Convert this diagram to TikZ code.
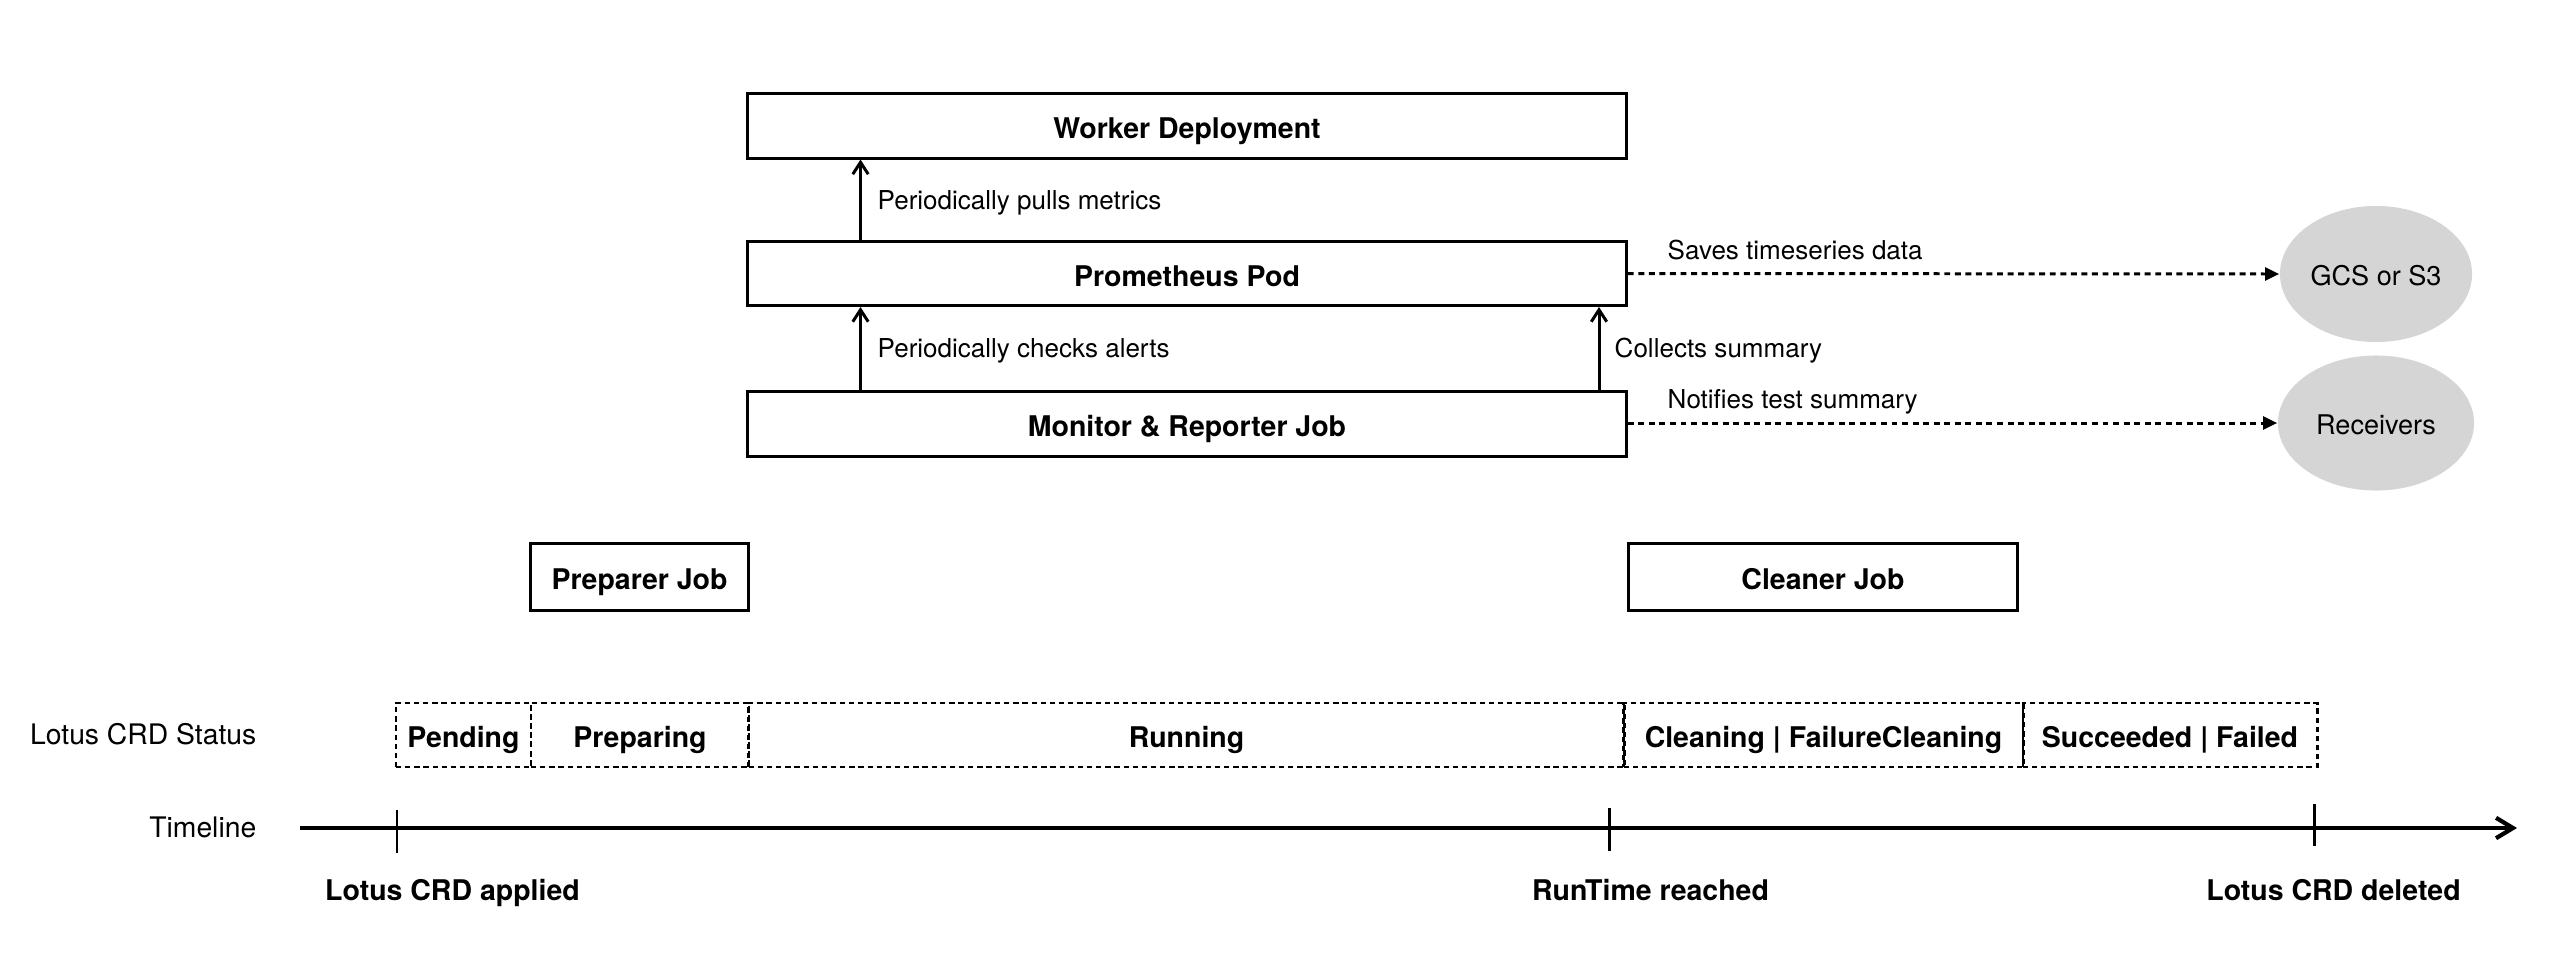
\documentclass[tikz,border=0pt]{standalone}
\usepackage{fontspec}
\setmainfont{TeX Gyre Heros}
\usetikzlibrary{arrows.meta,shapes.geometric,calc}
\definecolor{ellgrey}{HTML}{D5D5D5}
\begin{document}
\begin{tikzpicture}[x=0.01cm,y=-0.01cm,
  box/.style={draw, line width=0.85pt, minimum height=0.64cm, inner sep=0pt,
    text height=7.2pt, text depth=0pt, font=\fontsize{8.1}{10}\selectfont\bfseries},
  stat/.style={draw, line width=0.8pt, dash pattern=on 1.5pt off 1.1pt,
    minimum height=0.64cm, inner sep=0pt, text height=7.2pt, text depth=0pt,
    font=\fontsize{8.1}{10}\selectfont\bfseries},
  ell/.style={ellipse, fill=ellgrey, draw=none, inner sep=0pt,
    text height=6.3pt, text depth=0pt, font=\fontsize{7.7}{9}\selectfont},
  lbl/.style={inner sep=0pt, anchor=base west, font=\fontsize{7.4}{9}\selectfont},
  side/.style={inner sep=0pt, anchor=base east, font=\fontsize{8.05}{10}\selectfont},
  evt/.style={inner sep=0pt, anchor=base, font=\fontsize{8.1}{10}\selectfont\bfseries},
  solidarr/.style={line width=0.85pt, -{Straight Barb[length=3.4pt,width=4.4pt]}},
  dotarr/.style={line width=0.85pt, dash pattern=on 1.7pt off 1.3pt,
    -{Triangle[length=4pt,width=3.6pt]}},
  tlline/.style={line width=1.2pt, -{Straight Barb[length=4.8pt,width=5.8pt]}},
  tickmark/.style={line width=0.85pt},
]
\useasboundingbox (0,0) rectangle (2572,954);

% upper boxes
\node[box, minimum width=8.78cm] (worker) at (1187,126) {Worker Deployment};
\node[box, minimum width=8.78cm] (prom) at (1187,273.5) {Prometheus Pod};
\node[box, minimum width=8.78cm] (monitor) at (1187,424) {Monitor \& Reporter Job};

% job boxes
\node[box, minimum width=2.17cm, minimum height=0.66cm] (prep) at (639.5,577) {Preparer Job};
\node[box, minimum width=3.88cm, minimum height=0.66cm] (clean) at (1823,577) {Cleaner Job};

% ellipses
\node[ell, minimum width=1.92cm, minimum height=1.36cm] (gcs) at (2376,274) {GCS or S3};
\node[ell, minimum width=1.96cm, minimum height=1.35cm] (recv) at (2376,423) {Receivers};

% status row
\node[stat, minimum width=1.35cm] (pend) at (463.5,735) {Pending};
\node[stat, minimum width=2.18cm] (prepg) at (640,735) {Preparing};
\node[stat, minimum width=8.75cm] (run) at (1186.5,735) {Running};
\node[stat, minimum width=3.99cm] (cln) at (1823.5,735) {Cleaning | FailureCleaning};
\node[stat, minimum width=2.94cm] (done) at (2170,735) {Succeeded | Failed};

% side labels
\node[side] (statlbl) at (257,744) {Lotus CRD Status};
\node[side] (tllbl) at (257,837) {Timeline};

% vertical arrows
\coordinate (xl) at (860.5,0);
\coordinate (xr) at (1599,0);
\draw[solidarr] (prom.north -| xl) -- (worker.south -| xl);
\draw[solidarr] (monitor.north -| xl) -- (prom.south -| xl);
\draw[solidarr] (monitor.north -| xr) -- (prom.south -| xr);
\node[lbl] (lpull) at (877,209) {Periodically pulls metrics};
\node[lbl] (lcheck) at (877,357.5) {Periodically checks alerts};
\node[lbl] (lcoll) at (1614,357.5) {Collects summary};

% dotted arrows
\draw[dotarr] (prom.east) -- (gcs.west);
\draw[dotarr] (monitor.east |- recv.west) -- (recv.west);
\node[lbl] (lsave) at (1667,259) {Saves timeseries data};
\node[lbl] (lnotify) at (1667,408) {Notifies test summary};

% timeline
\coordinate (tl0) at (300,828);
\coordinate (tl1) at (2517,828);
\draw[tlline] (tl0) -- (tl1);
\coordinate (ta1) at (397,810); \coordinate (tb1) at (397,853);
\coordinate (ta2) at (1609,808); \coordinate (tb2) at (1609,851);
\coordinate (ta3) at (2314,804); \coordinate (tb3) at (2314,846);
\draw[tickmark] (ta1) -- (tb1);
\draw[tickmark] (ta2) -- (tb2);
\draw[tickmark] (ta3) -- (tb3);

\node[evt] (eapplied) at (452.5,900) {Lotus CRD applied};
\node[evt] (eruntime) at (1650.5,900) {RunTime reached};
\node[evt] (edeleted) at (2333.5,900) {Lotus CRD deleted};
\end{tikzpicture}
\end{document}
